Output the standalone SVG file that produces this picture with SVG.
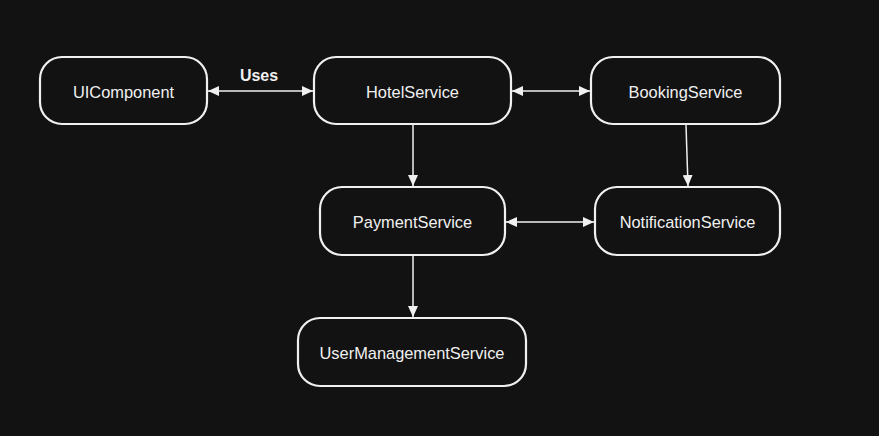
<svg xmlns="http://www.w3.org/2000/svg" width="879" height="436" viewBox="0 0 879 436">
<defs>
<style>
.node rect{fill:#121212;stroke:#f0f0f0;stroke-width:2.2}
.node text{font-family:"Liberation Sans",Arial,sans-serif;font-size:16.4px;fill:#f0f0f0;text-anchor:middle;dominant-baseline:central}
.edge{stroke:#f0f0f0;stroke-width:1.5;fill:none}
.lbl{font-family:"Liberation Sans",Arial,sans-serif;font-size:16px;font-weight:bold;fill:#f0f0f0;text-anchor:middle}
</style>
<marker id="ah" viewBox="0 0 11 10" refX="11" refY="5" markerWidth="11" markerHeight="10" markerUnits="userSpaceOnUse" orient="auto-start-reverse">
<path d="M0,0 L11,5 L0,10 Z" fill="#f0f0f0"/>
</marker>
</defs>
<rect width="879" height="436" fill="#121212"/>
<g id="connectors">
<line class="edge" x1="208" y1="91" x2="313" y2="91" marker-start="url(#ah)" marker-end="url(#ah)"/>
<text class="lbl" x="259" y="81">Uses</text>
<line class="edge" x1="512" y1="91" x2="590" y2="91" marker-start="url(#ah)" marker-end="url(#ah)"/>
<line class="edge" x1="413" y1="125" x2="413" y2="186" marker-end="url(#ah)"/>
<line class="edge" x1="686" y1="125" x2="688" y2="186" marker-end="url(#ah)"/>
<line class="edge" x1="506" y1="222" x2="594" y2="222" marker-start="url(#ah)" marker-end="url(#ah)"/>
<line class="edge" x1="413" y1="256" x2="413" y2="317" marker-end="url(#ah)"/>
</g>
<g id="UIComponent" class="node"><rect x="40" y="57" width="167" height="67" rx="22"/><text x="123.5" y="92">UIComponent</text></g>
<g id="HotelService" class="node"><rect x="314" y="57" width="197" height="67" rx="22"/><text x="412.5" y="92">HotelService</text></g>
<g id="BookingService" class="node"><rect x="591" y="57" width="189" height="67" rx="22"/><text x="685.5" y="92">BookingService</text></g>
<g id="PaymentService" class="node"><rect x="320" y="187" width="185" height="68" rx="22"/><text x="412.5" y="222">PaymentService</text></g>
<g id="NotificationService" class="node"><rect x="595" y="187" width="185" height="68" rx="22"/><text x="687.5" y="222">NotificationService</text></g>
<g id="UserManagementService" class="node"><rect x="298" y="318" width="228" height="68" rx="22"/><text x="412" y="353">UserManagementService</text></g>
</svg>
